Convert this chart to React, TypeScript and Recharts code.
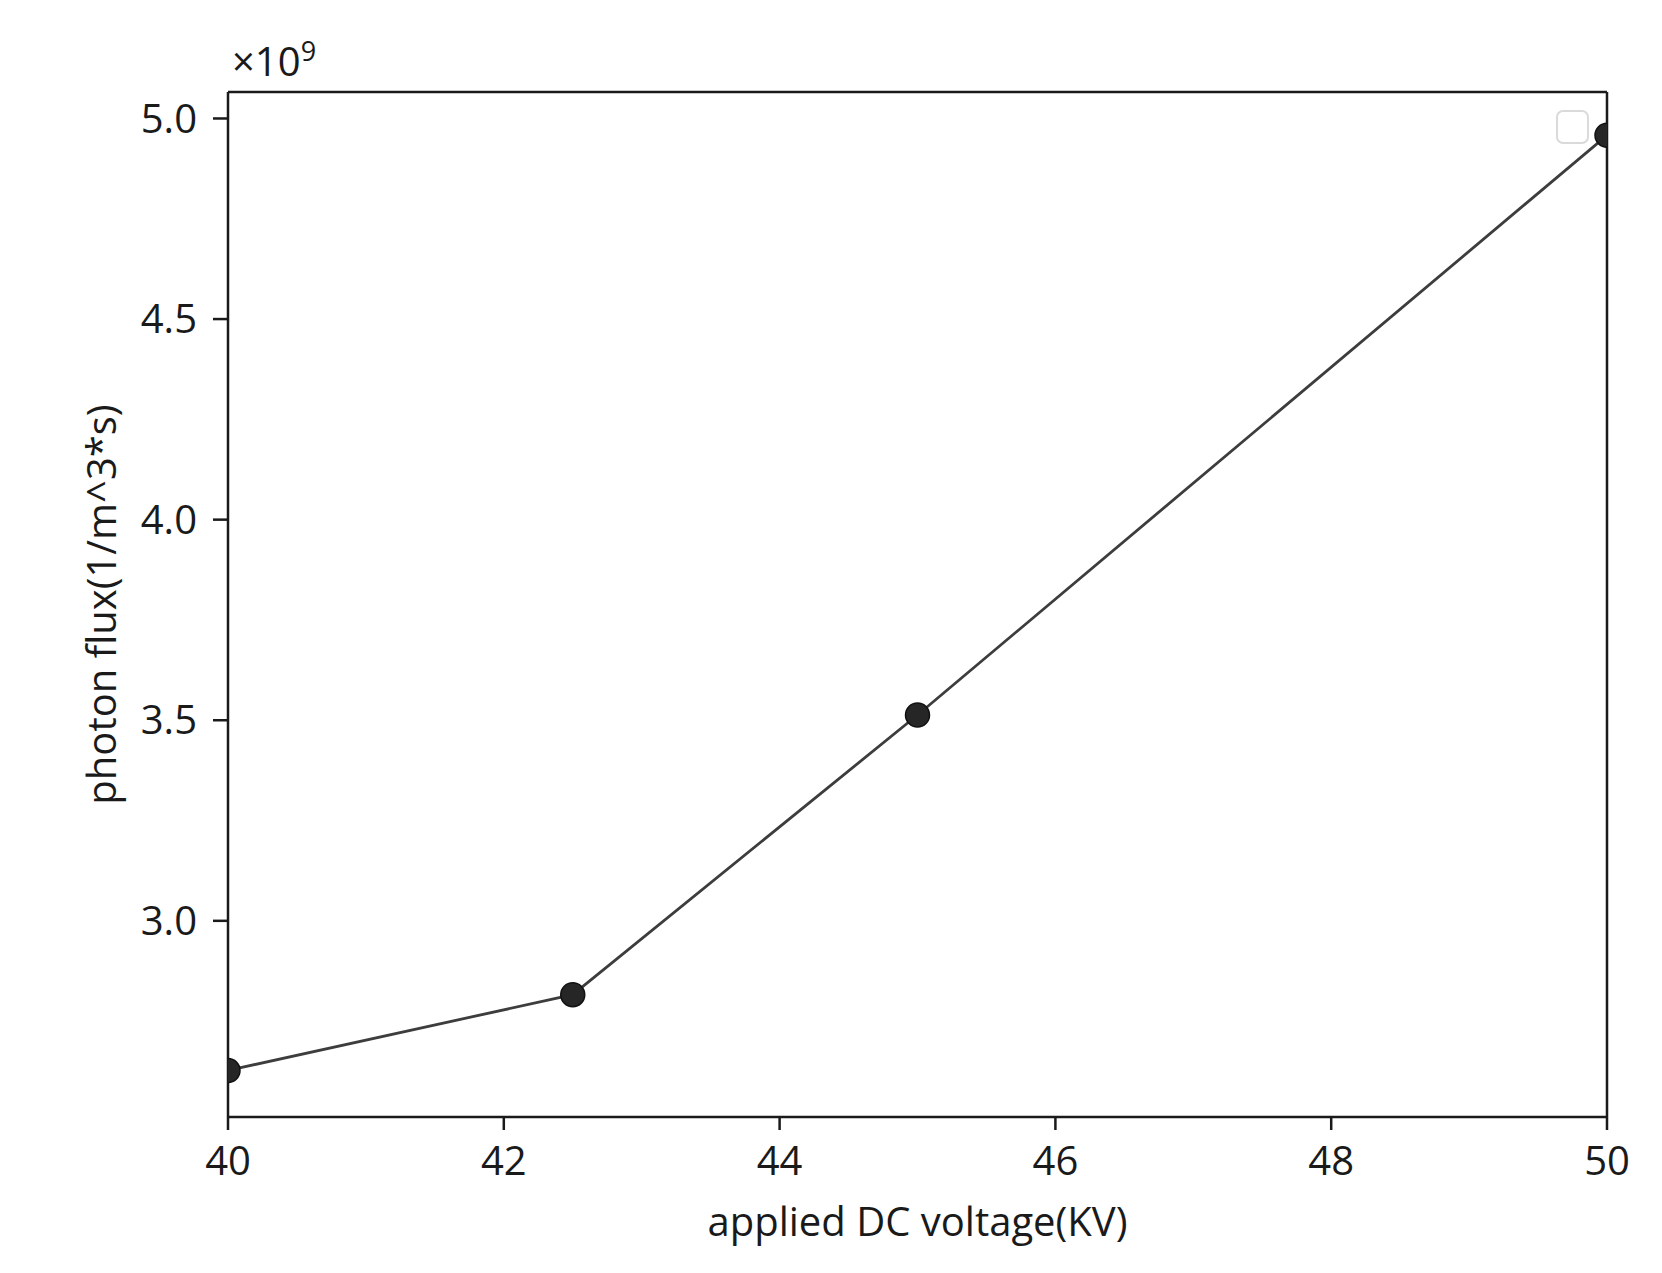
import React from "react";
import { LineChart, Line, XAxis, YAxis, Legend } from "recharts";

// applied DC voltage (kV) vs photon flux (x1e9 1/m^3*s)
const voltages = [40, 42.5, 45, 50];
const photonFlux = [2.627, 2.816, 3.513, 4.958];
const xTicks = [40, 42, 44, 46, 48, 50];
const yTicks = [3.0, 3.5, 4.0, 4.5, 5.0];
const yDomain = [2.511, 5.066];

const data = voltages.map((v, i) => ({ voltage: v, flux: photonFlux[i] }));

const FONT = "'Open Sans', 'Noto Sans', sans-serif";
const INK = "#1a1a1a";

function YTitle(props: any) {
  const { x, y, width, height } = props.viewBox;
  const cx = x + 12;
  const cy = y + height / 2;
  return (
    <g>
      <text
        x={cx}
        y={cy}
        transform={`rotate(-90 ${cx} ${cy})`}
        textAnchor="middle"
        dominantBaseline="central"
        fontFamily={FONT}
        fontSize={40}
        fill={INK}
      >
        photon flux(1/m^3*s)
      </text>
      <text x={x + width + 4} y={y - 16} fontFamily={FONT} fontSize={40} fill={INK}>
        ×10
        <tspan fontSize={27} dy={-15}>
          9
        </tspan>
      </text>
    </g>
  );
}

function XTitle(props: any) {
  const { x, y, width } = props.viewBox;
  return (
    <text
      x={x + width / 2}
      y={y + 103}
      textAnchor="middle"
      dominantBaseline="central"
      fontFamily={FONT}
      fontSize={40}
      fill={INK}
    >
      applied DC voltage(KV)
    </text>
  );
}

function EmptyLegend() {
  return (
    <div
      style={{
        width: 29,
        height: 30,
        border: "2px solid #dadada",
        borderRadius: 7,
        boxSizing: "content-box",
      }}
    />
  );
}

export default function App() {
  return (
    <div style={{ position: "absolute", left: 0, top: 0, background: "#fff" }}>
      <LineChart
        width={1662}
        height={1273}
        data={data}
        margin={{ top: 91, right: 54, bottom: 56, left: 88 }}
      >
        <XAxis
          dataKey="voltage"
          type="number"
          domain={[40, 50]}
          ticks={xTicks}
          allowDataOverflow
          height={100}
          tickSize={13}
          tickMargin={17}
          stroke={INK}
          strokeWidth={2.5}
          tick={{ fontFamily: FONT, fontSize: 40, fill: INK }}
          label={(p: any) => <XTitle {...p} />}
        />
        <XAxis
          xAxisId="top"
          orientation="top"
          dataKey="voltage"
          type="number"
          domain={[40, 50]}
          height={1}
          tick={false}
          tickLine={false}
          stroke={INK}
          strokeWidth={2.5}
        />
        <YAxis
          type="number"
          domain={yDomain}
          ticks={yTicks}
          allowDataOverflow
          width={140}
          tickSize={15}
          tickMargin={16}
          stroke={INK}
          strokeWidth={2.5}
          tickFormatter={(v: number) => v.toFixed(1)}
          tick={{ fontFamily: FONT, fontSize: 40, fill: INK }}
          label={(p: any) => <YTitle {...p} />}
        />
        <YAxis
          yAxisId="right"
          orientation="right"
          type="number"
          domain={yDomain}
          width={1}
          tick={false}
          tickLine={false}
          stroke={INK}
          strokeWidth={2.5}
        />
        <Legend
          layout="horizontal"
          verticalAlign="middle"
          align="center"
          wrapperStyle={{ top: 110, left: 1556, width: "auto" }}
          content={() => <EmptyLegend />}
        />
        <Line
          type="linear"
          dataKey="flux"
          stroke="#3d3d3d"
          strokeWidth={2.8}
          dot={{ r: 12, fill: "#262626", stroke: "#111", strokeWidth: 1.5 }}
          activeDot={false}
          isAnimationActive={false}
        />
      </LineChart>
    </div>
  );
}
